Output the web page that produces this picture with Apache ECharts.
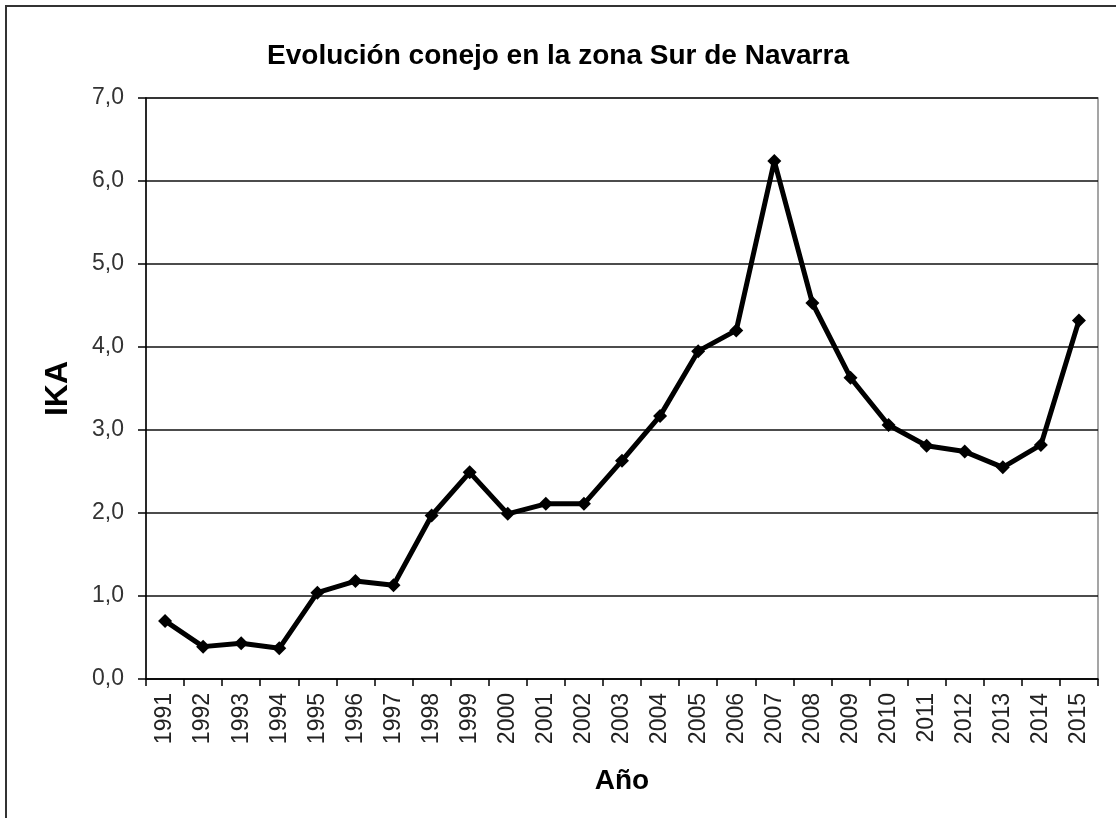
<!DOCTYPE html>
<html>
<head>
<meta charset="utf-8">
<script src="https://cdn.jsdelivr.net/npm/echarts@6/dist/echarts.min.js"></script>
<style>
  html, body { margin: 0; padding: 0; background: #fff; }
  #myChart { width: 1116px; height: 818px; }
</style>
</head>
<body>
<div id="myChart"></div>
<script>
var years = ['1991','1992','1993','1994','1995','1996','1997','1998','1999','2000',
  '2001','2002','2003','2004','2005','2006','2007','2008','2009','2010',
  '2011','2012','2013','2014','2015'];
var ika = [0.70, 0.39, 0.43, 0.37, 1.04, 1.18, 1.13, 1.97, 2.49, 1.99,
  2.11, 2.11, 2.63, 3.17, 3.95, 4.20, 6.24, 4.53, 3.63, 3.06,
  2.81, 2.74, 2.55, 2.82, 4.32];
var titleText = 'Evolución conejo en la zona Sur de Navarra';

var font = '"Liberation Sans", Arial, sans-serif';

var myChart = echarts.init(document.getElementById('myChart'));
var option = {
  animation: false,
  backgroundColor: '#fff',
  title: {
    text: titleText,
    left: 'center',
    top: 37,
    textStyle: { fontFamily: font, fontSize: 28, fontWeight: 'bold', color: '#000' }
  },
  graphic: [{
    type: 'polyline',
    shape: { points: [[6, 818], [6, 6], [1116, 6]] },
    style: { stroke: '#333', lineWidth: 2, fill: null }
  }],
  grid: {
    left: 146, top: 98, right: 18, bottom: 139,
    show: true, borderColor: '#888', borderWidth: 1.5, backgroundColor: 'transparent'
  },
  xAxis: {
    type: 'category',
    data: years,
    boundaryGap: true,
    name: 'Año',
    nameLocation: 'middle',
    nameGap: 88,
    nameTextStyle: { fontFamily: font, fontSize: 28, fontWeight: 'bold', color: '#000' },
    axisLine: { lineStyle: { color: '#000', width: 1.5 } },
    axisTick: { show: true, alignWithLabel: false, length: 7, lineStyle: { color: '#000', width: 1.5 } },
    axisLabel: {
      rotate: 90, margin: 14, interval: 0,
      fontFamily: font, fontSize: 23, color: '#222'
    },
    splitLine: { show: false }
  },
  yAxis: {
    type: 'value',
    min: 0, max: 7, interval: 1,
    name: 'IKA',
    nameLocation: 'middle',
    nameGap: 72,
    nameRotate: 90,
    nameTextStyle: { fontFamily: font, fontSize: 32, fontWeight: 'bold', color: '#000' },
    axisLine: { show: true, lineStyle: { color: '#000', width: 1.5 } },
    axisTick: { show: true, inside: false, length: 8, lineStyle: { color: '#000', width: 1.5 } },
    axisLabel: {
      margin: 22,
      fontFamily: font, fontSize: 23, color: '#333',
      formatter: function (v) { return v.toFixed(1).replace('.', ','); }
    },
    splitLine: { show: true, lineStyle: { color: '#111', width: 1.5 } }
  },
  series: [{
    name: 'IKA',
    type: 'line',
    data: ika,
    symbol: 'diamond',
    symbolSize: 14,
    lineStyle: { color: '#000', width: 5 },
    itemStyle: { color: '#000' }
  }]
};
myChart.setOption(option);
</script>
</body>
</html>
